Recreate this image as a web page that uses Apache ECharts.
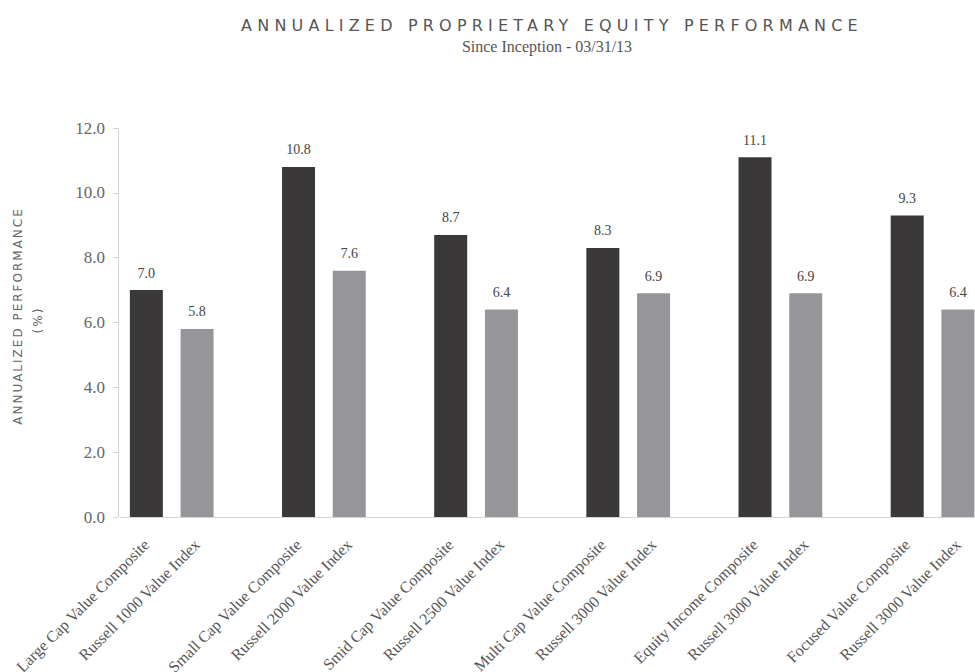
<!DOCTYPE html>
<html>
<head>
<meta charset="utf-8">
<title>Annualized Proprietary Equity Performance</title>
<script src="https://cdn.jsdelivr.net/npm/echarts@6/dist/echarts.min.js"></script>
<style>
  html, body { margin: 0; padding: 0; background: #fff; }
  #chart { width: 975px; height: 672px; }
  /* spaced caps for the title and the y axis name (svg renderer) */
  #chart text[style*="DejaVu Sans"] { letter-spacing: 2px; }
  #chart text[style*="DejaVu Sans"][style*="16px"] { letter-spacing: 5.2px; }
</style>
</head>
<body>
<div id="chart"></div>
<script>
const categories = [
  'Large Cap Value Composite', 'Russell 1000 Value Index',
  'Small Cap Value Composite', 'Russell 2000 Value Index',
  'Smid Cap Value Composite', 'Russell 2500 Value Index',
  'Multi Cap Value Composite', 'Russell 3000 Value Index',
  'Equity Income Composite', 'Russell 3000 Value Index',
  'Focused Value Composite', 'Russell 3000 Value Index'
];
const compositeValues = [7.0, 10.8, 8.7, 8.3, 11.1, 9.3];
const indexValues = [5.8, 7.6, 6.4, 6.9, 6.9, 6.4];
const yTicks = [0, 2, 4, 6, 8, 10, 12];

// each pair gets three slots: composite, index, empty gap
const slots = [];
const compData = [];
const indexData = [];
compositeValues.forEach((v, i) => {
  slots.push(categories[i * 2], categories[i * 2 + 1], '');
  compData.push(v, '-', '-');
  indexData.push('-', indexValues[i], '-');
});

const serif = 'Liberation Serif';
const sans = 'DejaVu Sans';

const barLabel = {
  show: true,
  position: 'top',
  distance: 10,
  fontFamily: serif,
  fontSize: 14,
  color: '#444',
  formatter: p => Number(p.value).toFixed(1)
};

const option = {
  animation: false,
  title: [
    {
      text: 'ANNUALIZED PROPRIETARY EQUITY PERFORMANCE',
      left: 552, top: 17, padding: 0, textAlign: 'center',
      textStyle: { fontFamily: sans, fontSize: 16, fontWeight: 'normal', color: '#555' }
    },
    {
      text: 'Since Inception - 03/31/13',
      left: 547, top: 38, padding: 0, textAlign: 'center',
      textStyle: { fontFamily: serif, fontSize: 16, fontWeight: 'normal', color: '#555' }
    }
  ],
  graphic: [
    {
      type: 'text', x: 18, y: 316, rotation: Math.PI / 2,
      style: { text: 'ANNUALIZED PERFORMANCE', fontFamily: sans, fontSize: 12, fill: '#666', align: 'center', verticalAlign: 'middle' }
    },
    {
      type: 'text', x: 38, y: 320, rotation: Math.PI / 2,
      style: { text: '(%)', fontFamily: sans, fontSize: 12, fill: '#666', align: 'center', verticalAlign: 'middle' }
    }
  ],
  // the last bar runs off the right edge, so the grid goes past the canvas
  grid: { left: 121, top: 128, right: -59, bottom: 155, outerBoundsMode: 'none' },
  xAxis: {
    type: 'category',
    data: slots,
    axisLine: { lineStyle: { color: '#d4d4d4' } },
    axisTick: { show: false },
    axisLabel: {
      interval: 0, rotate: 45, margin: 25,
      fontFamily: serif, fontSize: 16, color: '#555'
    }
  },
  yAxis: {
    type: 'value',
    min: yTicks[0], max: yTicks[yTicks.length - 1], interval: 2,
    offset: 3,
    axisLine: { show: true, lineStyle: { color: '#d4d4d4' } },
    axisTick: { show: true, length: 5, lineStyle: { color: '#d4d4d4' } },
    splitLine: { show: false },
    axisLabel: {
      margin: 13, fontFamily: serif, fontSize: 17, color: '#666',
      formatter: v => v.toFixed(1)
    }
  },
  series: [
    {
      name: 'Composite', type: 'bar', data: compData,
      barWidth: 33, barGap: '-100%',
      itemStyle: { color: '#3a3839' },
      label: barLabel
    },
    {
      name: 'Index', type: 'bar', data: indexData,
      barWidth: 33, barGap: '-100%',
      itemStyle: { color: '#96969a' },
      label: barLabel
    }
  ]
};

const chart = echarts.init(document.getElementById('chart'), null, { renderer: 'svg' });
chart.setOption(option);
</script>
</body>
</html>
